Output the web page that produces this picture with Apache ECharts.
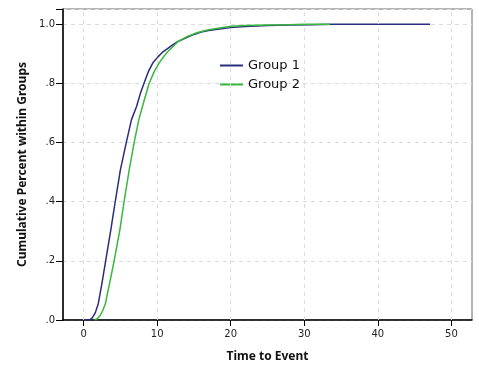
<!DOCTYPE html>
<html><head><meta charset="utf-8">
<script src="https://cdn.jsdelivr.net/npm/echarts@6/dist/echarts.min.js"></script>
<style>html,body{margin:0;padding:0;background:#fff}#c{width:479px;height:384px}</style>
</head><body><div id="c"></div>
<script>
const group1Time = [0,0.85,1.2,1.6,2.0,2.5,3.0,3.7,4.3,5.0,5.8,6.5,7.2,7.7,8.2,8.8,9.4,10.1,10.7,11.4,12.2,12.9,14,15,16,17,18.5,20,22,25,28,31,34,47.1];
const group1Cum  = [0,0,0.008,0.025,0.056,0.125,0.2,0.305,0.4,0.508,0.6,0.677,0.722,0.765,0.8,0.84,0.869,0.89,0.905,0.918,0.932,0.943,0.955,0.966,0.974,0.979,0.984,0.989,0.993,0.996,0.998,0.999,1.0,1.0];
const group2Time = [1.5,1.9,2.3,2.6,2.97,3.5,4.15,4.93,5.5,6.2,6.87,7.5,8.2,8.9,9.6,10.25,10.95,11.6,12.4,12.9,14,15,16,17,18.5,20,22,25,28,30,33.5];
const group2Cum  = [0,0.005,0.017,0.032,0.056,0.12,0.2,0.305,0.4,0.508,0.6,0.677,0.74,0.8,0.84,0.869,0.893,0.912,0.931,0.943,0.958,0.968,0.976,0.982,0.988,0.994,0.996,0.998,0.999,1.0,1.0];
const xTicks = [0,10,20,30,40,50];
const seriesNames = ['Group 1','Group 2'];

const pair = (xs, ys) => xs.map((x,i)=>[x, ys[i]]);
const chart = echarts.init(document.getElementById('c'), null, {renderer:'canvas'});
const font = '"DejaVu Sans", Verdana, sans-serif';
const bold = '"Noto Sans", "DejaVu Sans", sans-serif';
chart.setOption({
  animation:false,
  backgroundColor:'#fff',
  grid:{left:63,right:7,top:9,bottom:64,show:true,borderColor:'#6b6b6b',borderWidth:1,containLabel:false},
  legend:{
    orient:'vertical', left:215, top:54, itemWidth:23, itemHeight:2, itemGap:6, icon:'rect',
    textStyle:{fontFamily:font,fontSize:13,color:'#111',padding:[0,0,0,0]},
    data:seriesNames
  },
  xAxis:{
    type:'value', min:-2.8, max:52.8,
    name:'Time to Event', nameLocation:'middle', nameGap:31,
    nameTextStyle:{fontFamily:bold,fontWeight:'bold',fontSize:12,color:'#111'},
    axisLine:{show:true,onZero:false,lineStyle:{color:'#000',width:1.5}},
    axisTick:{show:true,length:6,customValues:xTicks,lineStyle:{color:'#000'}},
    axisLabel:{customValues:xTicks,fontFamily:font,fontSize:10,color:'#222',margin:9},
    splitLine:{show:false}
  },
  yAxis:{
    type:'value', min:0, max:1.052, interval:0.2,
    name:'Cumulative Percent within Groups', nameLocation:'middle', nameGap:31,
    nameTextStyle:{fontFamily:bold,fontWeight:'bold',fontSize:12,color:'#111'},
    axisLine:{show:true,onZero:false,lineStyle:{color:'#000',width:1.5}},
    axisTick:{show:true,length:7,lineStyle:{color:'#000'}},
    axisLabel:{fontFamily:font,fontSize:10,color:'#222',margin:8,
      formatter:v=>{const r=Math.round(v*10);if(Math.abs(v*10-r)>1e-6)return '';if(r===10)return '1.0';if(r===0)return '.0';return '.'+r;}},
    splitLine:{show:true,lineStyle:{color:'#dcdcdc',type:[4,4]}}
  },
  series:[
    {name:seriesNames[0],type:'line',showSymbol:false,symbol:'none',data:pair(group1Time,group1Cum),
     lineStyle:{color:'#2b2d7c',width:1.5},itemStyle:{color:'#2b2d7c'},z:3,
     markLine:{silent:true,symbol:'none',label:{show:false},
       lineStyle:{color:'#dcdcdc',type:[4,4],width:1},data:xTicks.map(v=>({xAxis:v}))}},
    {name:seriesNames[1],type:'line',showSymbol:false,symbol:'none',data:pair(group2Time,group2Cum),
     lineStyle:{color:'#36b93c',width:1.5},itemStyle:{color:'#36b93c'},z:4}
  ]
});
</script></body></html>
